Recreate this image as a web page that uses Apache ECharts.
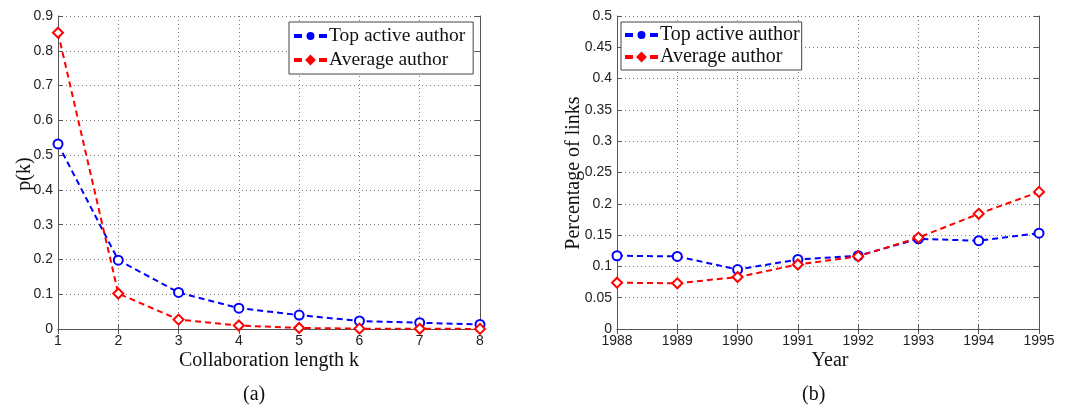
<!DOCTYPE html>
<html>
<head>
<meta charset="utf-8">
<script src="https://cdn.jsdelivr.net/npm/echarts@6/dist/echarts.min.js"></script>
<style>html,body{margin:0;padding:0;background:#fff;}#c{width:1068px;height:410px;}</style>
</head>
<body>
<div id="c"></div>
<script>
// ---- data ----
const kValues = [1, 2, 3, 4, 5, 6, 7, 8];
const topActiveByK = [0.532, 0.198, 0.105, 0.060, 0.040, 0.023, 0.018, 0.013];
const averageByK = [0.852, 0.102, 0.027, 0.010, 0.003, 0.001, 0.0005, 0.0003];
const years = [1988, 1989, 1990, 1991, 1992, 1993, 1994, 1995];
const topActiveByYear = [0.117, 0.116, 0.095, 0.111, 0.117, 0.144, 0.141, 0.153];
const averageByYear = [0.074, 0.073, 0.083, 0.103, 0.116, 0.146, 0.184, 0.219];
const seriesNames = ['Top active author', 'Average author'];
const panelLabels = ['(a)', '(b)'];
const axisTitles = { leftX: 'Collaboration length k', leftY: 'p(k)', rightX: 'Year', rightY: 'Percentage of links' };

const chart = echarts.init(document.getElementById('c'));
const tickFont = { fontFamily: 'Liberation Sans', fontSize: 14, color: '#222' };
const titleFont = { fontFamily: 'Liberation Serif', fontSize: 20, color: '#111' };
const gridLine = { show: true, lineStyle: { type: [1, 3], color: '#777', width: 1 } };
const axLine = { show: true, lineStyle: { color: '#555', width: 1 } };

function mainX(grid, min, max, fmt) {
  return { type: 'value', gridIndex: grid, min, max, interval: 1, position: 'bottom',
    axisLine: axLine, axisTick: { show: true, inside: true, length: 5, lineStyle: { color: '#555' } },
    axisLabel: Object.assign({ margin: 5, formatter: fmt }, tickFont),
    splitLine: gridLine };
}
function topX(grid, min, max) {
  return { type: 'value', gridIndex: grid, min, max, interval: 1, position: 'top',
    axisLine: axLine, axisTick: { show: true, inside: true, length: 5, lineStyle: { color: '#555' } },
    axisLabel: { show: false }, splitLine: { show: false } };
}
function mainY(grid, max, interval) {
  return { type: 'value', gridIndex: grid, min: 0, max, interval, position: 'left',
    axisLine: axLine, axisTick: { show: true, inside: true, length: 5, lineStyle: { color: '#555' } },
    axisLabel: Object.assign({ margin: 5 }, tickFont),
    splitLine: gridLine };
}
function rightY(grid, max, interval) {
  return { type: 'value', gridIndex: grid, min: 0, max, interval, position: 'right',
    axisLine: axLine, axisTick: { show: true, inside: true, length: 5, lineStyle: { color: '#555' } },
    axisLabel: { show: false }, splitLine: { show: false } };
}
function mkSeries(name, xs, ys, xi, yi, color, symbol) {
  return { type: 'line', name, xAxisIndex: xi, yAxisIndex: yi,
    data: xs.map((x, i) => [x, ys[i]]),
    symbol, symbolSize: symbol === 'emptyCircle' ? 9 : 10,
    lineStyle: { color, width: 2, type: [6, 4] },
    itemStyle: { color, borderColor: color, borderWidth: 2 },
    emphasis: { disabled: true }, animation: false, z: 3 };
}
const yrFmt = v => String(v);

// legend glyphs: dash - marker - dash
const dotIcon = 'path://M0,4h6v2h-6z M12.5,5a3,3 0 1,0 6,0a3,3 0 1,0 -6,0z M25,4h6v2h-6z';
const diaIcon = 'path://M0,4h6v2h-6z M15.5,1L19.5,5L15.5,9L11.5,5z M25,4h6v2h-6z';
function legendItems() {
  return [{ name: seriesNames[0], icon: dotIcon }, { name: seriesNames[1], icon: diaIcon }];
}
function label(text, x, y, rot) {
  return { type: 'text', x, y, rotation: rot || 0, silent: true,
    style: { text, fontFamily: 'Liberation Serif', fontSize: 20, fill: '#111', align: 'center', verticalAlign: 'middle' } };
}

chart.setOption({
  backgroundColor: '#fff',
  animation: false,
  title: [
    { text: panelLabels[0], left: 243, top: 385, padding: 0, textStyle: Object.assign({ fontWeight: 'normal' }, titleFont) },
    { text: panelLabels[1], left: 802, top: 385, padding: 0, textStyle: Object.assign({ fontWeight: 'normal' }, titleFont) }
  ],
  graphic: [
    label(axisTitles.leftX, 269, 361),
    label(axisTitles.rightX, 830, 361),
    label(axisTitles.leftY, 25, 174, Math.PI / 2),
    label(axisTitles.rightY, 574, 173, Math.PI / 2)
  ],
  grid: [
    { left: 58, top: 16, width: 422, height: 313 },
    { left: 617, top: 16, width: 422, height: 313 }
  ],
  xAxis: [
    mainX(0, 1, 8),
    topX(0, 1, 8),
    mainX(1, 1988, 1995, yrFmt),
    topX(1, 1988, 1995)
  ],
  yAxis: [
    mainY(0, 0.9, 0.1),
    rightY(0, 0.9, 0.1),
    mainY(1, 0.5, 0.05),
    rightY(1, 0.5, 0.05)
  ],
  legend: [
    { orient: 'vertical', left: 289, top: 22, padding: [4, 8, 4, 5], itemGap: 4,
      itemWidth: 31, itemHeight: 8, borderColor: '#444', borderWidth: 1, backgroundColor: '#fff',
      textStyle: { fontFamily: 'Liberation Serif', fontSize: 19.5, color: '#111', padding: [0, 0, 0, -2] },
      data: legendItems(), selectedMode: false },
    { orient: 'vertical', left: 621, top: 22, padding: [3, 2, 3, 4], itemGap: 2,
      itemWidth: 31, itemHeight: 8, borderColor: '#444', borderWidth: 1, backgroundColor: '#fff',
      textStyle: { fontFamily: 'Liberation Serif', fontSize: 20, color: '#111', padding: [0, 0, 0, -2] },
      data: legendItems(), selectedMode: false }
  ],
  series: [
    mkSeries(seriesNames[0], kValues, topActiveByK, 0, 0, '#0000ff', 'emptyCircle'),
    mkSeries(seriesNames[1], kValues, averageByK, 0, 0, '#ff0000', 'emptyDiamond'),
    mkSeries(seriesNames[0], years, topActiveByYear, 2, 2, '#0000ff', 'emptyCircle'),
    mkSeries(seriesNames[1], years, averageByYear, 2, 2, '#ff0000', 'emptyDiamond')
  ]
});
</script>
</body>
</html>
